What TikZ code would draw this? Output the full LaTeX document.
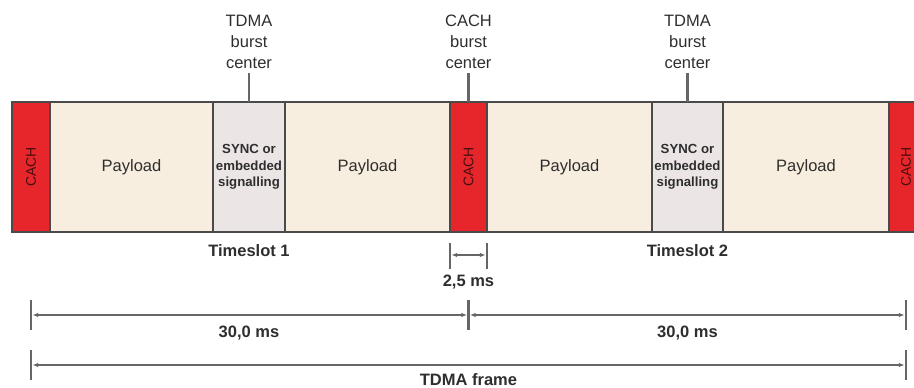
\documentclass[tikz,border=0pt]{standalone}
\usepackage{fontspec}
\setmainfont{Liberation Sans}
\usetikzlibrary{arrows.meta}
\definecolor{payfill}{HTML}{F7EEDF}
\definecolor{syncfill}{HTML}{ECE5E6}
\definecolor{cachred}{HTML}{E7262B}
\definecolor{bordc}{HTML}{4A4A4A}
\definecolor{dimc}{HTML}{666666}
\definecolor{txtc}{HTML}{2E2E2E}
\definecolor{cachtxt}{HTML}{4A0E0E}
\begin{document}
\begin{tikzpicture}[x=1pt,y=-1pt,
  blk/.style={draw=bordc, line width=1.4pt, anchor=north west, minimum height=130pt, inner sep=0pt, outer sep=0pt},
  pay/.style={blk, fill=payfill, text=txtc, font=\fontsize{16.5}{19}\selectfont},
  syncb/.style={blk, fill=syncfill, text=txtc, align=center, font=\bfseries\fontsize{13.2}{16.5}\selectfont},
  cachb/.style={blk, fill=cachred, text=cachtxt, font=\fontsize{14}{16}\selectfont},
  toplbl/.style={align=center, text=txtc, inner sep=0pt, font=\fontsize{16.5}{21}\selectfont},
  boldlbl/.style={text=txtc, inner sep=0pt, font=\bfseries\fontsize{16.5}{19}\selectfont},
  tickln/.style={draw=dimc, line width=2.6pt},
  pin/.style={draw=dimc, line width=2.4pt},
  dimln/.style={draw=dimc, line width=1.6pt, {Latex[length=6pt,width=4.5pt]}-{Latex[length=6pt,width=4.5pt]}, shorten <=1.2pt, shorten >=1.2pt}
]
\useasboundingbox (0,0) rectangle (914,388);

% bar blocks
\node[cachb, minimum width=38pt] (cach1) at (12,102) {\rotatebox{90}{CACH}};
\node[pay, minimum width=163pt] (pay1) at (cach1.north east) {Payload};
\node[syncb, minimum width=72pt] (sync1) at (pay1.north east) {SYNC or\\embedded\\signalling};
\node[pay, minimum width=165pt] (pay2) at (sync1.north east) {Payload};
\node[cachb, minimum width=37pt] (cach2) at (pay2.north east) {\rotatebox{90}{CACH}};
\node[pay, minimum width=165pt] (pay3) at (cach2.north east) {Payload};
\node[syncb, minimum width=71pt] (sync2) at (pay3.north east) {SYNC or\\embedded\\signalling};
\node[pay, minimum width=166pt] (pay4) at (sync2.north east) {Payload};
\node[cachb, minimum width=34pt] (cach3) at (pay4.north east) {\rotatebox{90}{CACH}};

% top labels
\node[toplbl] (lbl1) at (sync1.north |- 0,42) {TDMA\\burst\\center};
\node[toplbl] (lbl2) at (cach2.north |- 0,42) {CACH\\burst\\center};
\node[toplbl] (lbl3) at (sync2.north |- 0,42) {TDMA\\burst\\center};
\draw[pin] (lbl1.south) ++(0,4) -- (sync1.north);
\draw[pin] (lbl2.south) ++(0,4) -- (cach2.north);
\draw[pin] (lbl3.south) ++(0,4) -- (sync2.north);

% timeslot labels
\node[boldlbl] (ts1) at (sync1.north |- 0,251) {Timeslot 1};
\node[boldlbl] (ts2) at (sync2.north |- 0,251) {Timeslot 2};

% 2,5 ms
\coordinate (sa) at (cach2.south west);
\coordinate (sb) at (cach2.south east);
\coordinate (s1t) at (sa |- 0,243);
\coordinate (s1b) at (sa |- 0,269);
\coordinate (s2t) at (sb |- 0,243);
\coordinate (s2b) at (sb |- 0,269);
\draw[tickln] (s1t) -- (s1b);
\draw[tickln] (s2t) -- (s2b);
\draw[dimln] (sa |- 0,255) -- (sb |- 0,255);
\node[boldlbl] (d25) at (cach2.south |- 0,282) {2,5 ms};

% 30,0 ms
\coordinate (fa) at (31,315);
\coordinate (fm) at (cach2.south |- 0,315);
\coordinate (fb) at (906,315);
\foreach \c in {fa,fm,fb}{\draw[tickln] (\c) ++(0,-15) -- ++(0,30);}
\draw[dimln] (fa) -- (fm);
\draw[dimln] (fm) -- (fb);
\node[boldlbl] (d30a) at (sync1.north |- 0,333) {30,0 ms};
\node[boldlbl] (d30b) at (sync2.north |- 0,333) {30,0 ms};

% TDMA frame
\coordinate (ga) at (31,365);
\coordinate (gb) at (906,365);
\foreach \c in {ga,gb}{\draw[tickln] (\c) ++(0,-15) -- ++(0,30);}
\draw[dimln] (ga) -- (gb);
\node[boldlbl] (frame) at (cach2.south |- 0,380) {TDMA frame};
\end{tikzpicture}
\end{document}
